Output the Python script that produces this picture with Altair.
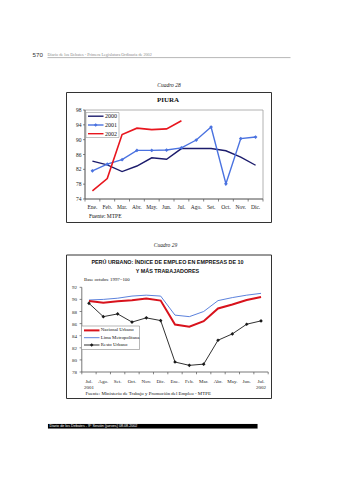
import altair as alt
import pandas as pd

# ---------------- data ----------------
months1 = ["Ene.", "Feb.", "Mar.", "Abr.", "May.", "Jun.", "Jul.", "Ago.", "Set.", "Oct.", "Nov.", "Dic."]
piura_2000 = [84.2, 83.2, 81.4, 82.9, 85.1, 84.7, 87.6, 87.6, 87.6, 87.0, 85.3, 83.1]
piura_2001 = [81.6, 83.4, 84.6, 87.1, 87.1, 87.2, 87.8, 89.9, 93.4, 78.1, 90.3, 90.7]
piura_2002 = [76.2, 79.5, 91.4, 93.1, 92.7, 92.9, 95.1]
yticks1 = [74, 78, 82, 86, 90, 94, 98]

months2 = ["Jul.", "Ago.", "Set.", "Oct.", "Nov.", "Dic.", "Ene.", "Feb.", "Mar.", "Abr.", "May.", "Jun.", "Jul."]
nacional = [89.75, 89.45, 89.7, 89.85, 90.15, 89.8, 85.85, 85.5, 86.4, 88.5, 89.15, 89.9, 90.4]
lima = [89.9, 90.0, 90.2, 90.55, 90.7, 90.55, 87.4, 87.15, 88.0, 89.8, 90.3, 90.7, 91.0]
resto = [89.35, 87.15, 87.6, 86.25, 86.95, 86.5, 79.65, 79.1, 79.3, 83.25, 84.3, 85.9, 86.45]
yticks2 = [78, 80, 82, 84, 86, 88, 90, 92]

SERIF = "Liberation Serif, Times New Roman, serif"
SANS = "Liberation Sans, Arial, sans-serif"
NARROW = "Liberation Sans Narrow, Arial Narrow, Liberation Sans, Arial, sans-serif"

# ---------------- scales ----------------
def X1(field="i"):
    return alt.X(f"{field}:Q", scale=alt.Scale(domain=[-0.5, 11.5], range=[85, 263], nice=False, zero=False), axis=None)

def Y1(field="v"):
    return alt.Y(f"{field}:Q", scale=alt.Scale(domain=[74, 98], range=[199, 110], nice=False, zero=False), axis=None)

def X2(field="i"):
    return alt.X(f"{field}:Q", scale=alt.Scale(domain=[-0.5, 12.5], range=[81.8, 268.2], nice=False, zero=False), axis=None)

def Y2(field="v"):
    return alt.Y(f"{field}:Q", scale=alt.Scale(domain=[78, 92], range=[372, 287.3], nice=False, zero=False), axis=None)


def one():
    return pd.DataFrame({"k": [0]})


def txt(s, x, y, size, font=SERIF, align="left", color="#111", **kw):
    return alt.Chart(pd.DataFrame({"t": [s]})).mark_text(
        fontSize=size, font=font, align=align, baseline="middle", color=color, **kw
    ).encode(x=alt.value(x), y=alt.value(y), text="t:N")


def box(x, x2, y, y2, stroke="#222", sw=1.0, fill=None):
    kw = dict(stroke=stroke, strokeWidth=sw)
    if fill is None:
        kw["fillOpacity"] = 0
        kw["fill"] = "white"
    else:
        kw["fill"] = fill
    return alt.Chart(one()).mark_rect(**kw).encode(
        x=alt.value(x), x2=alt.value(x2), y=alt.value(y), y2=alt.value(y2)
    )


def hrule(x, x2, y, color="#222", sw=1.0):
    return alt.Chart(one()).mark_rule(color=color, strokeWidth=sw).encode(
        x=alt.value(x), x2=alt.value(x2), y=alt.value(y)
    )


def vrule(x, y, y2, color="#222", sw=1.0):
    return alt.Chart(one()).mark_rule(color=color, strokeWidth=sw).encode(
        x=alt.value(x), y=alt.value(y), y2=alt.value(y2)
    )


layers = []

# ---------------- page header ----------------
layers.append(txt("570", 32.5, 55.3, 6.2, font=SANS, color="#333"))
layers.append(txt("Diario de los Debates - Primera Legislatura Ordinaria de 2002", 47.5, 55.3, 4.2, font=SERIF, color="#8a8a8a"))
layers.append(hrule(47.5, 290.5, 57.6, color="#9a9a9a", sw=0.7))

# ---------------- chart 1: PIURA ----------------
C1 = "#1c1c6c"
C2 = "#4a72e0"
C3 = "#e8161e"

layers.append(alt.Chart(pd.DataFrame({"t": ["Cuadro 28"]})).mark_text(
    fontSize=5.5, font=SERIF, fontStyle="italic", align="center", baseline="middle", color="#222"
).encode(x=alt.value(169), y=alt.value(85), text="t:N"))
layers.append(box(66.5, 271.5, 92.5, 222.5, stroke="#333", sw=1.0))
layers.append(txt("PIURA", 168, 99.8, 7, font=SERIF, align="center", fontWeight="bold"))
layers.append(box(85, 263, 110, 199, stroke="#a0a0a0", sw=0.8))
layers.append(vrule(85, 110, 199, color="#555", sw=0.8))
layers.append(hrule(85, 263, 199, color="#555", sw=0.8))

df_yt1 = pd.DataFrame({"v": yticks1})
layers.append(alt.Chart(df_yt1).mark_text(fontSize=5.5, font=SERIF, align="right", baseline="middle", color="#222")
              .encode(x=alt.value(81.5), y=Y1(), text="v:Q"))
layers.append(alt.Chart(df_yt1).mark_rule(color="#555", strokeWidth=0.7)
              .encode(x=alt.value(83), x2=alt.value(85), y=Y1()))

df_b1 = pd.DataFrame({"b": [i - 0.5 for i in range(len(months1) + 1)]})
layers.append(alt.Chart(df_b1).mark_rule(color="#555", strokeWidth=0.7)
              .encode(x=X1("b"), y=alt.value(199), y2=alt.value(201.5)))

df_m1 = pd.DataFrame({"i": list(range(len(months1))), "m": months1})
layers.append(alt.Chart(df_m1).mark_text(fontSize=5.5, font=SERIF, align="center", baseline="middle", color="#222")
              .encode(x=X1(), y=alt.value(206.8), text="m:N"))

d2000 = pd.DataFrame({"i": list(range(len(piura_2000))), "v": piura_2000})
d2001 = pd.DataFrame({"i": list(range(len(piura_2001))), "v": piura_2001})
d2002 = pd.DataFrame({"i": list(range(len(piura_2002))), "v": piura_2002})
layers.append(alt.Chart(d2000).mark_line(color=C1, strokeWidth=1.4).encode(x=X1(), y=Y1()))
layers.append(alt.Chart(d2001).mark_line(color=C2, strokeWidth=1.4).encode(x=X1(), y=Y1()))
layers.append(alt.Chart(d2001).mark_point(shape="diamond", filled=True, size=14, color=C2, opacity=1).encode(x=X1(), y=Y1()))
layers.append(alt.Chart(d2002).mark_line(color=C3, strokeWidth=1.6).encode(x=X1(), y=Y1()))

# legend 1
layers.append(box(86, 119, 112.5, 137.5, stroke="#999", sw=0.6, fill="white"))
for yy, col, lab, mk in [(116.2, C1, "2000", False), (125, C2, "2001", True), (133.7, C3, "2002", False)]:
    layers.append(hrule(88, 103.5, yy, color=col, sw=1.4))
    if mk:
        layers.append(alt.Chart(one()).mark_point(shape="diamond", filled=True, size=14, color=col, opacity=1)
                      .encode(x=alt.value(95.7), y=alt.value(yy)))
    layers.append(txt(lab, 105, yy, 6, font=SERIF))

layers.append(txt("Fuente: MTPE", 89, 216.3, 5.5, font=SERIF))

# ---------------- chart 2: PERÚ URBANO ----------------
D1 = "#d8121c"
D2 = "#4a74d8"
D3 = "#1a1a1a"

layers.append(alt.Chart(pd.DataFrame({"t": ["Cuadro 29"]})).mark_text(
    fontSize=5.5, font=SERIF, fontStyle="italic", align="center", baseline="middle", color="#222"
).encode(x=alt.value(165.5), y=alt.value(245.3), text="t:N"))
layers.append(box(66.5, 271.5, 255, 398.5, stroke="#333", sw=1.0))
layers.append(txt("PERÚ URBANO: ÍNDICE DE EMPLEO EN EMPRESAS DE 10", 167.5, 261.6, 5.4, font=NARROW, align="center", fontWeight="bold"))
layers.append(txt("Y MÁS TRABAJADORES", 167.5, 271, 5.4, font=NARROW, align="center", fontWeight="bold"))
layers.append(txt("Base octubre 1997=100", 84, 279.6, 4.8, font=SERIF))

layers.append(vrule(81.8, 287.3, 372, color="#555", sw=0.8))
layers.append(hrule(81.8, 268.2, 372, color="#555", sw=0.8))

df_yt2 = pd.DataFrame({"v": yticks2})
layers.append(alt.Chart(df_yt2).mark_text(fontSize=5, font=SERIF, align="right", baseline="middle", color="#222")
              .encode(x=alt.value(77), y=Y2(), text="v:Q"))
layers.append(alt.Chart(df_yt2).mark_rule(color="#555", strokeWidth=0.7)
              .encode(x=alt.value(79.6), x2=alt.value(81.8), y=Y2()))

df_b2 = pd.DataFrame({"b": [i - 0.5 for i in range(len(months2) + 1)]})
layers.append(alt.Chart(df_b2).mark_rule(color="#555", strokeWidth=0.7)
              .encode(x=X2("b"), y=alt.value(372), y2=alt.value(374.3)))

df_m2 = pd.DataFrame({"i": list(range(len(months2))), "m": months2})
layers.append(alt.Chart(df_m2).mark_text(fontSize=5, font=SERIF, align="center", baseline="middle", color="#222")
              .encode(x=X2(), y=alt.value(381), text="m:N"))
df_yr = pd.DataFrame({"i": [0, len(months2) - 1], "m": ["2001", "2002"]})
layers.append(alt.Chart(df_yr).mark_text(fontSize=5, font=SERIF, align="center", baseline="middle", color="#222")
              .encode(x=X2(), y=alt.value(387.2), text="m:N"))

dn = pd.DataFrame({"i": list(range(len(nacional))), "v": nacional})
dl = pd.DataFrame({"i": list(range(len(lima))), "v": lima})
dr = pd.DataFrame({"i": list(range(len(resto))), "v": resto})
layers.append(alt.Chart(dl).mark_line(color=D2, strokeWidth=0.9).encode(x=X2(), y=Y2()))
layers.append(alt.Chart(dn).mark_line(color=D1, strokeWidth=2.0).encode(x=X2(), y=Y2()))
layers.append(alt.Chart(dr).mark_line(color=D3, strokeWidth=0.9).encode(x=X2(), y=Y2()))
layers.append(alt.Chart(dr).mark_point(shape="diamond", filled=True, size=13, color=D3, opacity=1).encode(x=X2(), y=Y2()))

# legend 2
layers.append(box(81.5, 139.5, 326, 349.5, stroke="#888", sw=0.6, fill="white"))
for yy, col, lab, sw, mk in [(330.4, D1, "Nacional Urbano", 2.0, False),
                             (337.7, D2, "Lima Metropolitana", 0.9, False),
                             (345, D3, "Resto Urbano", 0.9, True)]:
    layers.append(hrule(84, 99.5, yy, color=col, sw=sw))
    if mk:
        layers.append(alt.Chart(one()).mark_point(shape="diamond", filled=True, size=13, color=col, opacity=1)
                      .encode(x=alt.value(91.7), y=alt.value(yy)))
    layers.append(txt(lab, 100.8, yy, 4.8, font=SERIF))

layers.append(txt("Fuente: Ministerio de Trabajo y Promoción del Empleo - MTPE", 85.5, 393.6, 4.9, font=SERIF))

# ---------------- page footer ----------------
layers.append(box(48, 257.5, 424, 428.6, stroke="#000", sw=0.1, fill="#000"))
layers.append(txt("Diario de los Debates - 9ª Sesión (jueves) 08.08.2002", 49.5, 426.4, 3.7, font=SANS, color="#ffffff"))

chart = alt.layer(*layers).resolve_scale(x="independent", y="independent").properties(
    width=339, height=480,
    autosize=alt.AutoSizeParams(type="none"),
    padding=0,
    background="white",
).configure_view(stroke=None)

chart.save("out.html", embed_options={"renderer": "svg", "actions": False})
